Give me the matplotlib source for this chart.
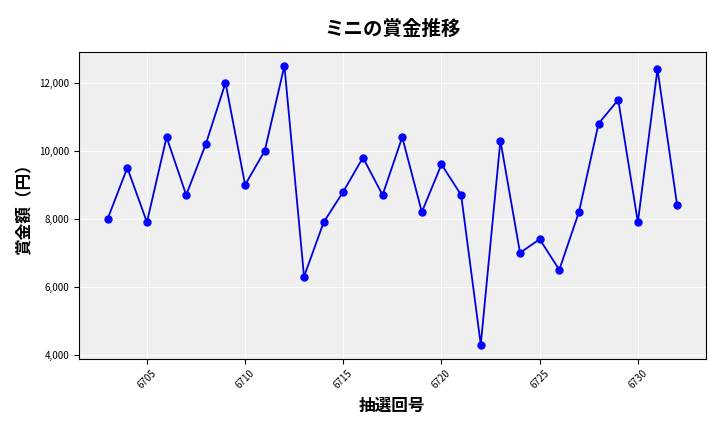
import matplotlib
matplotlib.use("Agg")
import matplotlib.pyplot as plt
from matplotlib.ticker import FuncFormatter

plt.rcParams['font.family'] = ['Noto Sans CJK JP', 'DejaVu Sans']

draws = list(range(6703, 6733))
prizes = [8000, 9500, 7900, 10400, 8700, 10200, 12000, 9000, 10000, 12500,
          6300, 7900, 8800, 9800, 8700, 10400, 8200, 9600, 8700, 4300,
          10300, 7000, 7400, 6500, 8200, 10800, 11500, 7900, 12400, 8400]

fig, ax = plt.subplots(figsize=(7.2, 4.32), dpi=100)
ax.set_facecolor('#efefef')
ax.plot(draws, prizes, color='#0000dd', marker='o', markersize=5, linewidth=1.3,
        markerfacecolor='blue', markeredgecolor='blue')
ax.grid(True, color='white', linewidth=0.8)
ax.set_axisbelow(True)
ax.set_title('ミニの賞金推移', fontsize=14, fontweight='bold', pad=12)
ax.set_xlabel('抽選回号', fontsize=12, fontweight='bold')
ax.set_ylabel('賞金額（円）', fontsize=12, fontweight='bold')
ax.set_xticks(range(6705, 6733, 5))
ax.set_yticks(range(4000, 12001, 2000))
ax.yaxis.set_major_formatter(FuncFormatter(lambda v, p: f'{int(v):,}'))
ax.tick_params(axis='x', labelrotation=45, labelsize=7)
ax.tick_params(axis='y', labelsize=7)
fig.subplots_adjust(left=0.11, right=0.98, top=0.88, bottom=0.17)
fig.savefig('out.png')
